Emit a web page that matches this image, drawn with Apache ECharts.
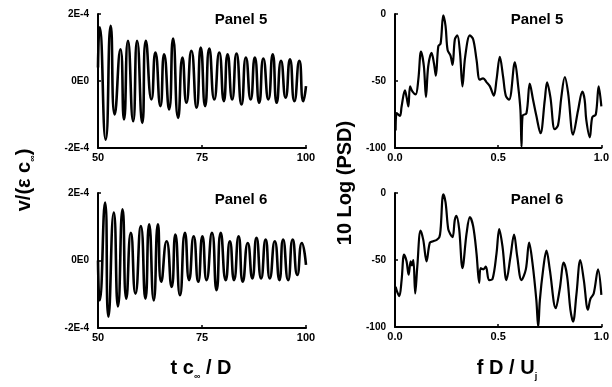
<!DOCTYPE html>
<html>
<head>
<meta charset="utf-8">
<script src="https://cdn.jsdelivr.net/npm/echarts@6/dist/echarts.min.js"></script>
<style>
  html, body { margin: 0; background: #fff; }
  #chart { width: 612px; height: 387px; }
</style>
</head>
<body>
<div id="chart"></div>
<script>
// time traces, signal in units of 1e-4
const panel5Time = [50.0, 50.4, 51.85, 53.05, 54.0, 55.4, 56.25, 57.2, 58.45, 59.4, 60.65, 61.5, 62.85, 63.8, 65.0, 65.9, 67.1, 68.05, 69.25, 70.3, 71.25, 72.45, 73.7, 74.7, 75.75, 76.75, 77.95, 79.15, 80.25, 81.15, 82.25, 83.3, 84.5, 85.55, 86.7, 87.7, 88.75, 89.75, 90.95, 92.0, 92.95, 94.0, 95.1, 96.15, 97.2, 98.4, 99.35, 100];
const panel5Signal = [0.4, 1.6, -1.75, 1.65, -1.0, 0.95, -1.15, 1.2, -1.2, 1.2, -1.25, 1.2, -0.55, 0.85, -0.75, 0.8, -0.85, 1.27, -1.1, 0.7, -0.65, 0.9, -0.8, 1.0, -0.75, 0.97, -0.55, 0.85, -0.6, 0.8, -0.55, 0.82, -0.7, 0.7, -0.55, 0.7, -0.65, 0.67, -0.55, 0.8, -0.65, 0.6, -0.5, 0.65, -0.6, 0.6, -0.6, -0.15];

const panel6Time = [50.0, 50.4, 51.7, 52.5, 53.8, 54.8, 55.9, 56.8, 57.9, 59.0, 60.3, 61.4, 62.3, 63.4, 64.4, 65.2, 66.5, 67.7, 68.6, 69.7, 70.9, 71.9, 73.0, 74.1, 75.1, 76.1, 77.4, 78.5, 79.5, 80.7, 81.7, 82.7, 83.8, 84.8, 86.0, 87.1, 88.1, 89.2, 90.3, 91.3, 92.5, 93.6, 94.5, 95.7, 96.8, 97.9, 99.0, 100];
const panel6Signal = [0.0, -1.18, 1.72, -1.66, 1.42, -1.36, 1.52, -1.13, 0.82, -0.98, 1.02, -1.13, 1.07, -1.18, 1.07, -0.63, 0.57, -0.78, 0.77, -1.03, 0.82, -0.58, 0.72, -0.63, 0.72, -0.58, 0.82, -0.88, 0.82, -0.58, 0.57, -0.58, 0.72, -0.63, 0.52, -0.53, 0.67, -0.53, 0.62, -0.53, 0.57, -0.58, 0.62, -0.58, 0.62, -0.43, 0.52, -0.13];

// spectra
const panel5Freq = [0.003, 0.008, 0.024, 0.032, 0.048, 0.056, 0.065, 0.073, 0.085, 0.10, 0.113, 0.126, 0.140, 0.150, 0.161, 0.177, 0.189, 0.198, 0.21, 0.221, 0.234, 0.245, 0.255, 0.269, 0.279, 0.29, 0.302, 0.315, 0.327, 0.34, 0.363, 0.379, 0.395, 0.411, 0.427, 0.444, 0.46, 0.479, 0.492, 0.508, 0.524, 0.537, 0.553, 0.581, 0.597, 0.608, 0.613, 0.618, 0.637, 0.653, 0.669, 0.685, 0.705, 0.726, 0.737, 0.753, 0.774, 0.79, 0.806, 0.823, 0.839, 0.863, 0.887, 0.908, 0.919, 0.927, 0.944, 0.956, 0.973, 0.987, 1.0];
const panel5Psd = [-87, -74, -76, -69, -57, -62, -69, -54, -58, -60, -49, -28, -39, -62, -39, -29, -37, -46, -24, -22, -1, -9, -27, -31, -38, -19, -16, -29, -54, -32, -16, -19, -34, -49, -48, -51, -54, -61, -49, -32, -47, -61, -64, -36, -54, -72, -99, -76, -74, -52, -64, -76, -89, -64, -51, -62, -86, -83, -62, -47, -59, -90, -72, -58, -64, -79, -92, -77, -75, -54, -69];

const panel6Freq = [0.003, 0.011, 0.021, 0.032, 0.044, 0.056, 0.066, 0.076, 0.082, 0.089, 0.098, 0.108, 0.124, 0.137, 0.153, 0.169, 0.185, 0.202, 0.215, 0.221, 0.234, 0.245, 0.258, 0.269, 0.279, 0.29, 0.298, 0.311, 0.327, 0.347, 0.363, 0.379, 0.395, 0.408, 0.415, 0.427, 0.44, 0.456, 0.473, 0.492, 0.505, 0.521, 0.54, 0.56, 0.577, 0.592, 0.613, 0.634, 0.65, 0.666, 0.685, 0.694, 0.702, 0.718, 0.734, 0.75, 0.779, 0.798, 0.818, 0.834, 0.85, 0.863, 0.879, 0.898, 0.915, 0.935, 0.947, 0.963, 0.984, 1.0];
const panel6Psd = [-70, -74, -77, -65, -46, -51, -61, -51, -54, -50, -75, -55, -28, -35, -51, -37, -36, -35, -33, -27, -1, -7, -27, -31, -33, -20, -17, -27, -56, -30, -18, -25, -45, -67, -56, -57, -55, -65, -64, -45, -27, -40, -65, -47, -31, -47, -65, -57, -37, -52, -80, -100, -80, -57, -43, -57, -86, -72, -52, -62, -87, -96, -76, -50, -65, -87, -79, -75, -57, -76];

const signalTickLabels = ["-2E-4", "0E0", "2E-4"];
const psdTickLabels = ["-100", "-50", "0"];
const timeTickLabels = ["50", "75", "100"];
const freqTickLabels = ["0.0", "0.5", "1.0"];

const FONT = "'Liberation Sans', Arial, sans-serif";
const zip = (xs, ys) => xs.map((x, i) => [x, ys[i]]);

function xAxisFor(gridIndex, min, max, interval, labels) {
  return {
    type: "value",
    gridIndex,
    min,
    max,
    interval,
    axisLine: { onZero: false, lineStyle: { color: "#000", width: 2 } },
    axisTick: { inside: true, length: 3, lineStyle: { color: "#000", width: 1.5 } },
    splitLine: { show: false },
    axisLabel: {
      color: "#000",
      fontFamily: FONT,
      fontWeight: "bold",
      fontSize: 11,
      margin: 4,
      formatter: (v, i) => labels[i]
    }
  };
}

function yAxisFor(gridIndex, min, max, interval, labels) {
  return {
    type: "value",
    gridIndex,
    min,
    max,
    interval,
    axisLine: { show: true, onZero: false, lineStyle: { color: "#000", width: 2 } },
    axisTick: { inside: true, length: 3, lineStyle: { color: "#000", width: 1.5 } },
    splitLine: { show: false },
    axisLabel: {
      color: "#000",
      fontFamily: FONT,
      fontWeight: "bold",
      fontSize: 10,
      margin: 9,
      formatter: (v, i) => labels[i]
    }
  };
}

function trace(index, xs, ys, smooth, width) {
  return {
    type: "line",
    xAxisIndex: index,
    yAxisIndex: index,
    data: zip(xs, ys),
    symbol: "none",
    smooth,
    clip: true,
    lineStyle: { color: "#000", width }
  };
}

function label(x, y, text, size) {
  return {
    type: "text",
    x,
    y,
    style: {
      text,
      fill: "#000",
      font: `bold ${size}px ${FONT}`,
      align: "center",
      verticalAlign: "middle"
    }
  };
}

function subTitle(x, y, text, rotation) {
  return {
    type: "text",
    x,
    y,
    rotation,
    style: {
      text,
      fill: "#000",
      align: "center",
      verticalAlign: "middle",
      rich: {
        a: { fontFamily: FONT, fontWeight: "bold", fontSize: 20, lineHeight: 26, fill: "#000" },
        s: { fontFamily: FONT, fontWeight: "bold", fontSize: 9, lineHeight: 9, verticalAlign: "bottom", fill: "#000" }
      }
    }
  };
}

const chart = echarts.init(document.getElementById("chart"));

chart.setOption({
  backgroundColor: "#fff",
  animation: false,
  grid: [
    { left: 98, top: 14, width: 208, height: 134 },
    { left: 395, top: 14, width: 207, height: 134 },
    { left: 98, top: 193, width: 208, height: 135 },
    { left: 395, top: 193, width: 207, height: 134 }
  ],
  xAxis: [
    xAxisFor(0, 50, 100, 25, timeTickLabels),
    xAxisFor(1, 0, 1, 0.5, freqTickLabels),
    xAxisFor(2, 50, 100, 25, timeTickLabels),
    xAxisFor(3, 0, 1, 0.5, freqTickLabels)
  ],
  yAxis: [
    yAxisFor(0, -2, 2, 2, signalTickLabels),
    yAxisFor(1, -100, 0, 50, psdTickLabels),
    yAxisFor(2, -2, 2, 2, signalTickLabels),
    yAxisFor(3, -100, 0, 50, psdTickLabels)
  ],
  series: [
    trace(0, panel5Time, panel5Signal, 0.6, 2.6),
    trace(1, panel5Freq, panel5Psd, 0.35, 2.2),
    trace(2, panel6Time, panel6Signal, 0.6, 2.6),
    trace(3, panel6Freq, panel6Psd, 0.35, 2.2)
  ],
  graphic: [
    label(241, 20, "Panel 5", 15),
    label(537, 20, "Panel 5", 15),
    label(241, 200, "Panel 6", 15),
    label(537, 200, "Panel 6", 15),
    subTitle(24, 180, "{a|v/(ε c}{s|∞}{a|)}", Math.PI / 2),
    subTitle(345, 183, "{a|10 Log (PSD)}", Math.PI / 2),
    subTitle(201, 368, "{a|t c}{s|∞}{a| / D}", 0),
    subTitle(507, 368, "{a|f D / U}{s|j}", 0)
  ]
});
</script>
</body>
</html>
